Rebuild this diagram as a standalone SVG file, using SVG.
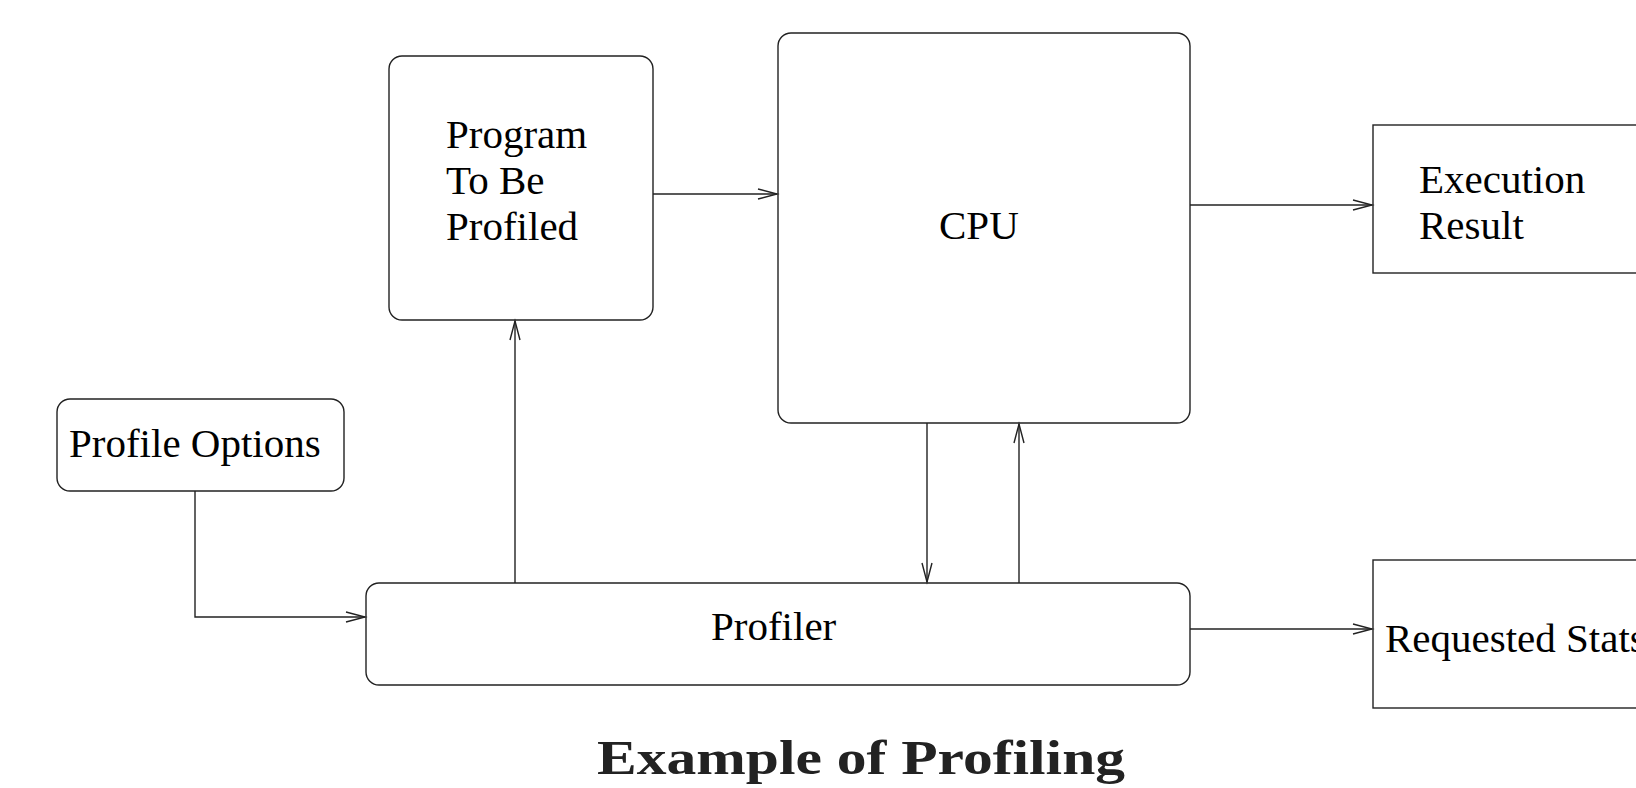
<svg xmlns="http://www.w3.org/2000/svg" width="1636" height="788" viewBox="0 0 1636 788">
<style>
.box{fill:none;stroke:#222;stroke-width:1.4}
.t{font-family:"Liberation Serif","Times New Roman",serif;font-size:41px;fill:#000}
.c{fill:none;stroke:#222;stroke-width:1.4}
.title{font-family:"Liberation Serif","Times New Roman",serif;font-size:49px;font-weight:bold;fill:#222}
</style>
<defs>
<marker id="ah" markerWidth="22" markerHeight="12" refX="19" refY="5" orient="auto" markerUnits="userSpaceOnUse" overflow="visible">
<path d="M0,0 L19,5 L0,10" fill="none" stroke="#222" stroke-width="1.4"/>
</marker>
</defs>
<rect width="1636" height="788" fill="#fff"/>
<g id="program">
<rect class="box" x="389" y="56" width="264" height="264" rx="13"/>
<text class="t" x="446" y="148">Program</text>
<text class="t" x="446" y="194">To Be</text>
<text class="t" x="446" y="240">Profiled</text>
</g>
<g id="cpu">
<rect class="box" x="778" y="33" width="412" height="390" rx="13"/>
<text class="t" x="939" y="239">CPU</text>
</g>
<g id="exec">
<rect class="box" x="1373" y="125" width="300" height="148"/>
<text class="t" x="1419" y="193">Execution</text>
<text class="t" x="1419" y="239">Result</text>
</g>
<g id="options">
<rect class="box" x="57" y="399" width="287" height="92" rx="13"/>
<text class="t" x="69" y="457">Profile Options</text>
</g>
<g id="profiler">
<rect class="box" x="366" y="583" width="824" height="102" rx="13"/>
<text class="t" x="711" y="640">Profiler</text>
</g>
<g id="stats">
<rect class="box" x="1373" y="560" width="300" height="148"/>
<text class="t" x="1385" y="652">Requested Stats</text>
</g>
<g id="connectors">
<line class="c" x1="653" y1="194" x2="777" y2="194" marker-end="url(#ah)"/>
<line class="c" x1="1190" y1="205" x2="1372" y2="205" marker-end="url(#ah)"/>
<polyline class="c" points="195,491 195,617 365,617" marker-end="url(#ah)"/>
<line class="c" x1="515" y1="583" x2="515" y2="321" marker-end="url(#ah)"/>
<line class="c" x1="927" y1="423" x2="927" y2="582" marker-end="url(#ah)"/>
<line class="c" x1="1019" y1="583" x2="1019" y2="424" marker-end="url(#ah)"/>
<line class="c" x1="1190" y1="629" x2="1372" y2="629" marker-end="url(#ah)"/>
</g>
<text id="title" class="title" x="597" y="774" textLength="528" lengthAdjust="spacingAndGlyphs">Example of Profiling</text>
</svg>
